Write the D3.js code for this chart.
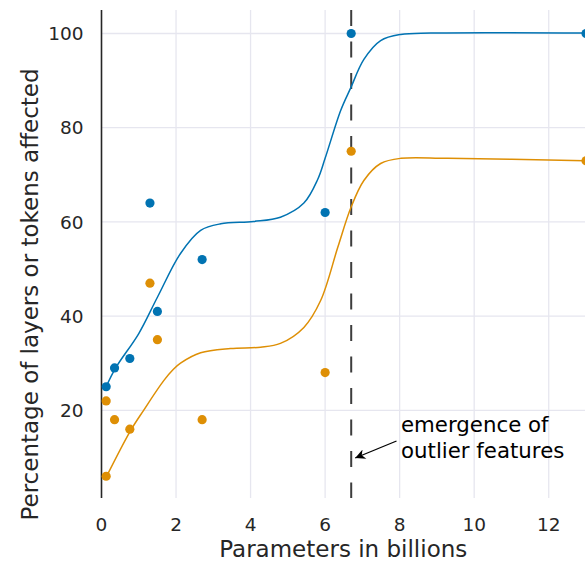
<!DOCTYPE html>
<html>
<head>
<meta charset="utf-8">
<script src="https://cdn.jsdelivr.net/npm/d3@7"></script>
<style>
    body { margin: 0; background: #fff; }
    svg { display: block; font-family: 'DejaVu Sans', sans-serif; }
    .tick-label { font-size: 18.5px; fill: #262626; }
    .axis-label { font-size: 23px; fill: #262626; }
    .note { font-size: 21.3px; fill: #000; }
</style>
</head>
<body>
<svg id="chart"></svg>
<script>
// Model sizes (billions of parameters) and measured percentages.
const layerX = [0.125, 0.35, 0.76, 1.3, 1.5, 2.7, 6.0, 6.7, 13];
const layerY = [25, 29, 31, 64, 41, 52, 62, 100, 100];
const tokenX = [0.125, 0.125, 0.35, 0.76, 1.3, 1.5, 2.7, 6.0, 6.7, 13];
const tokenY = [22, 6, 18, 16, 47, 35, 18, 28, 75, 73];

// Fitted curves.
const layerFitX = [0.125, 0.38, 1.0, 1.5, 2.12, 2.66, 3.2, 4.08, 4.8, 5.43, 5.8, 6.0, 6.42, 6.69, 7.04, 7.49, 8.03, 8.84, 13];
const layerFitY = [25, 29, 36.3, 44, 53.3, 58.2, 59.6, 60.1, 61, 64, 69, 73.5, 83.7, 88.5, 94.5, 98.5, 99.8, 100.1, 100.1];
const tokenFitX = [0.125, 0.78, 1.13, 1.67, 1.93, 2.12, 2.66, 3.46, 4.27, 4.8, 5.43, 5.88, 6.34, 6.69, 7.04, 7.49, 8.03, 9.29, 13];
const tokenFitY = [5.8, 15.7, 20, 26.3, 28.7, 30, 32.2, 33.1, 33.4, 34.2, 37.6, 43.3, 54.6, 63, 68.8, 72.4, 73.5, 73.5, 73];

const xTicks = [0, 2, 4, 6, 8, 10, 12];
const yTicks = [20, 40, 60, 80, 100];
const emergenceX = 6.7;

const width = 585, height = 562;
const plotTop = 10, plotBottom = 498, plotLeft = 101.5;
const colors = { layers: '#0173B2', tokens: '#DE8F05' };

const svg = d3.select('#chart').attr('width', width).attr('height', height);

const x = d3.scaleLinear().domain([0, 13]).range([plotLeft, 586]);
const y = d3.scaleLinear().domain([0, 100]).range([504.5, 33.5]);

// Grid.
svg.append('g')
    .selectAll('line')
    .data(xTicks.filter(d => d > 0))
    .join('line')
    .attr('x1', d => x(d)).attr('x2', d => x(d))
    .attr('y1', plotTop).attr('y2', plotBottom)
    .attr('stroke', '#e6e6ef').attr('stroke-width', 1.3);

svg.append('g')
    .selectAll('line')
    .data(yTicks)
    .join('line')
    .attr('x1', plotLeft).attr('x2', width)
    .attr('y1', d => y(d)).attr('y2', d => y(d))
    .attr('stroke', '#e6e6ef').attr('stroke-width', 1.3);

// Left spine.
svg.append('line')
    .attr('x1', plotLeft).attr('x2', plotLeft)
    .attr('y1', plotTop).attr('y2', plotBottom)
    .attr('stroke', '#262626').attr('stroke-width', 1.6);

// Tick labels.
svg.append('g')
    .selectAll('text')
    .data(xTicks)
    .join('text')
    .attr('class', 'tick-label')
    .attr('x', d => x(d))
    .attr('y', 531)
    .attr('text-anchor', 'middle')
    .text(d => d);

svg.append('g')
    .selectAll('text')
    .data(yTicks)
    .join('text')
    .attr('class', 'tick-label')
    .attr('x', 83.5)
    .attr('y', d => y(d) + 6.7)
    .attr('text-anchor', 'end')
    .text(d => d);

// Axis labels.
svg.append('text')
    .attr('class', 'axis-label')
    .attr('x', (plotLeft + width) / 2)
    .attr('y', 557)
    .attr('text-anchor', 'middle')
    .text('Parameters in billions');

svg.append('text')
    .attr('class', 'axis-label')
    .attr('transform', 'translate(38, 294.5) rotate(-90)')
    .attr('text-anchor', 'middle')
    .text('Percentage of layers or tokens affected');

// Emergence line.
svg.append('line')
    .attr('x1', x(emergenceX)).attr('x2', x(emergenceX))
    .attr('y1', plotTop).attr('y2', plotBottom)
    .attr('stroke', '#3d3d3d').attr('stroke-width', 2)
    .attr('stroke-dasharray', '16,15.5');

// Fitted curves.
const line = d3.line().x(d => x(d[0])).y(d => y(d[1])).curve(d3.curveCatmullRom.alpha(0.5));

svg.append('path')
    .datum(d3.zip(layerFitX, layerFitY))
    .attr('d', line)
    .attr('fill', 'none')
    .attr('stroke', colors.layers)
    .attr('stroke-width', 1.5);

svg.append('path')
    .datum(d3.zip(tokenFitX, tokenFitY))
    .attr('d', line)
    .attr('fill', 'none')
    .attr('stroke', colors.tokens)
    .attr('stroke-width', 1.5);

// Points.
svg.append('g')
    .selectAll('circle')
    .data(d3.zip(tokenX, tokenY))
    .join('circle')
    .attr('cx', d => x(d[0]))
    .attr('cy', d => y(d[1]))
    .attr('r', 4.6)
    .attr('fill', colors.tokens);

svg.append('g')
    .selectAll('circle')
    .data(d3.zip(layerX, layerY))
    .join('circle')
    .attr('cx', d => x(d[0]))
    .attr('cy', d => y(d[1]))
    .attr('r', 4.6)
    .attr('fill', colors.layers);

// Annotation.
svg.append('defs')
    .append('marker')
    .attr('id', 'arrow')
    .attr('viewBox', '0 0 10 10')
    .attr('refX', 10).attr('refY', 5)
    .attr('markerWidth', 14).attr('markerHeight', 10)
    .attr('markerUnits', 'userSpaceOnUse')
    .attr('orient', 'auto')
    .append('path')
    .attr('d', 'M0,0 L10,5 L0,10 L3,5 Z')
    .attr('fill', '#000');

svg.append('line')
    .attr('x1', 396.5).attr('y1', 441)
    .attr('x2', x(emergenceX) + 4).attr('y2', 458)
    .attr('stroke', '#000').attr('stroke-width', 1.3)
    .attr('marker-end', 'url(#arrow)');

const note = svg.append('text').attr('class', 'note').attr('x', 401);
note.append('tspan').attr('x', 401).attr('y', 432).text('emergence of');
note.append('tspan').attr('x', 401).attr('y', 458).text('outlier features');
</script>
</body>
</html>
